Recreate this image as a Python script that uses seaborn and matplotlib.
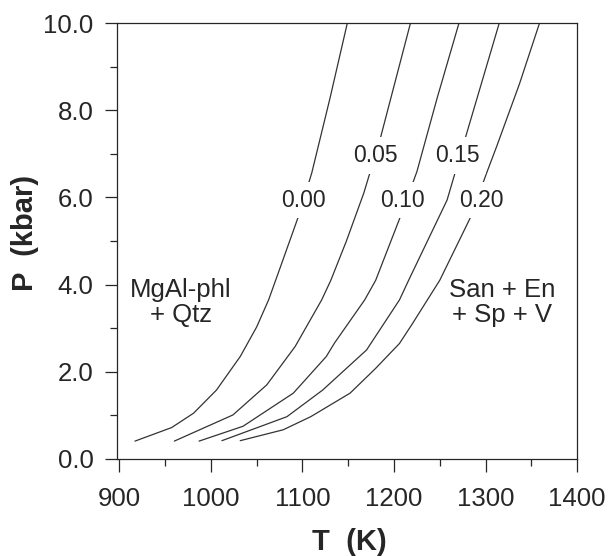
import numpy as np
import pandas as pd
import matplotlib
matplotlib.use("Agg")
import matplotlib.pyplot as plt
import seaborn as sns
from matplotlib.ticker import MultipleLocator, FormatStrFormatter

# Isopleths: T in K, P in kbar
T_000 = [917, 957, 981, 1006, 1032, 1050, 1063, 1076, 1095, 1110, 1130, 1149]
P_000 = [0.41, 0.72, 1.05, 1.58, 2.35, 3.03, 3.65, 4.41, 5.53, 6.55, 8.27, 10.0]

T_005 = [960, 1024, 1061, 1092, 1121, 1131, 1148, 1167, 1185, 1218]
P_005 = [0.41, 1.01, 1.70, 2.58, 3.65, 4.10, 5.00, 6.10, 7.35, 10.0]

T_010 = [987, 1035, 1090, 1126, 1135, 1168, 1180, 1207, 1225, 1247, 1271]
P_010 = [0.41, 0.75, 1.51, 2.35, 2.66, 3.65, 4.10, 5.56, 6.59, 8.27, 10.0]

T_015 = [1012, 1083, 1122, 1170, 1206, 1216, 1258, 1277, 1315]
P_015 = [0.42, 0.97, 1.58, 2.50, 3.65, 4.10, 5.94, 7.30, 10.0]

T_020 = [1032, 1079, 1109, 1152, 1180, 1206, 1220, 1250, 1284, 1301, 1312, 1337, 1359]
P_020 = [0.42, 0.67, 0.97, 1.51, 2.08, 2.65, 3.10, 4.10, 5.56, 6.55, 7.16, 8.60, 10.0]

labels = ["0.00", "0.05", "0.10", "0.15", "0.20"]
label_T = [1101, 1180, 1209, 1269, 1296]
label_P = [5.94, 6.97, 5.94, 6.97, 5.94]

curves = [(T_000, P_000), (T_005, P_005), (T_010, P_010), (T_015, P_015), (T_020, P_020)]

df = pd.concat(
    [pd.DataFrame({"T": t, "P": p, "x": lab}) for lab, (t, p) in zip(labels, curves)],
    ignore_index=True,
)

sns.set_style("ticks")
plt.rcParams["font.family"] = ["Liberation Sans", "DejaVu Sans"]
ink = "#262626"

fig = plt.figure(figsize=(6.1, 5.56), dpi=100)
ax = fig.add_axes([0.192, 0.1745, 0.754, 0.784])

for lab in labels:
    sub = df[df["x"] == lab]
    sns.lineplot(data=sub, x="T", y="P", sort=False, color="#333333",
                 linewidth=0.9, ax=ax, legend=False)

# isopleth labels, white box breaks the line
for lab, t, p in zip(labels, label_T, label_P):
    ax.text(t, p, lab, ha="center", va="center", fontsize=16.5, color=ink,
            bbox=dict(facecolor="white", edgecolor="none", pad=5), zorder=5)

ax.text(967, 3.58, "MgAl-phl\n+ Qtz", ha="center", va="center",
        fontsize=18.5, color=ink, linespacing=1.05)
ax.text(1318, 3.58, "San + En\n+ Sp + V", ha="center", va="center",
        fontsize=18.5, color=ink, linespacing=1.05)

ax.set_xlim(897.5, 1400)
ax.set_ylim(0, 10)
ax.xaxis.set_major_locator(MultipleLocator(100))
ax.xaxis.set_minor_locator(MultipleLocator(50))
ax.yaxis.set_major_locator(MultipleLocator(2))
ax.yaxis.set_minor_locator(MultipleLocator(1))
ax.yaxis.set_major_formatter(FormatStrFormatter("%.1f"))

ax.tick_params(axis="both", colors=ink, labelcolor=ink)
ax.tick_params(axis="x", which="major", length=9.5, width=0.9, pad=11, labelsize=18.5)
ax.tick_params(axis="x", which="minor", length=5, width=0.9)
ax.tick_params(axis="y", which="major", length=9, width=0.9, pad=8, labelsize=18.5)
ax.tick_params(axis="y", which="minor", length=5, width=0.9)
for s in ax.spines.values():
    s.set_linewidth(0.9)
    s.set_color(ink)

ax.set_xlabel("T  (K)", fontsize=21, fontweight="bold", color=ink)
ax.set_ylabel("P  (kbar)", fontsize=21, fontweight="bold", color=ink)
ax.xaxis.set_label_coords(0.504, -0.158)
ax.yaxis.set_label_coords(-0.17, 0.518)

fig.savefig("out.png", dpi=100)
